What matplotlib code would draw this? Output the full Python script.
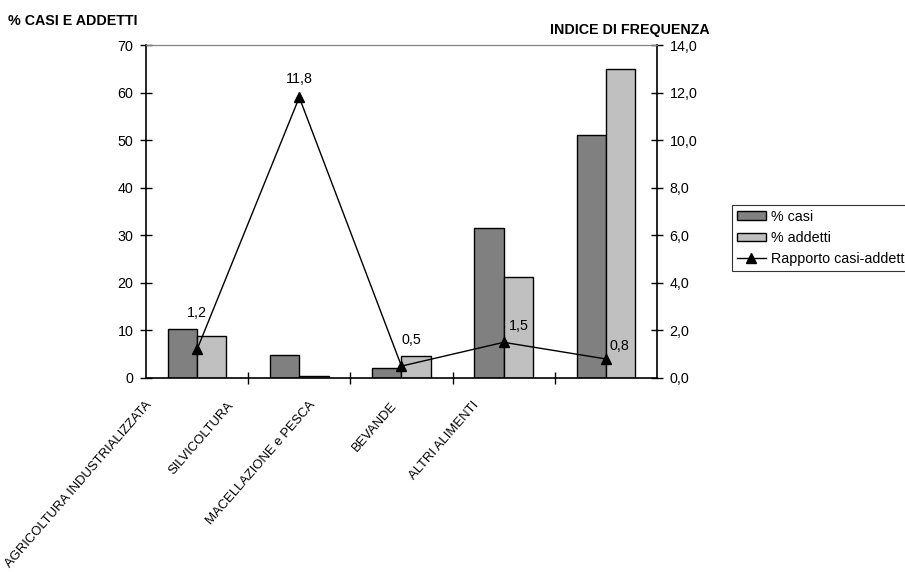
import numpy as np
import matplotlib.pyplot as plt

plt.rcParams['font.family'] = ['Liberation Sans', 'DejaVu Sans']

settori = ['AGRICOLTURA INDUSTRIALIZZATA', 'SILVICOLTURA', 'MACELLAZIONE e PESCA',
           'BEVANDE', 'ALTRI ALIMENTI']
perc_casi = [10.4, 4.8, 2.2, 31.5, 51.0]
perc_addetti = [8.9, 0.5, 4.6, 21.2, 64.9]
rapporto = [1.2, 11.8, 0.5, 1.5, 0.8]
etichette_rapporto = ['1,2', '11,8', '0,5', '1,5', '0,8']
# spostamento delle etichette del rapporto (punti)
spost_etichette = [(0, 26), (0, 13), (7.5, 18.5), (11, 12), (10, 9.5)]

fig = plt.figure(figsize=(9.05, 5.72), dpi=100)
ax = fig.add_axes([0.1613, 0.3392, 0.5646, 0.5821])
ax2 = ax.twinx()

x = np.arange(len(settori))
w = 0.287
ax.bar(x - w / 2, perc_casi, w, color='#808080', edgecolor='black', linewidth=1, label='% casi', zorder=2)
ax.bar(x + w / 2, perc_addetti, w, color='#C0C0C0', edgecolor='black', linewidth=1, label='% addetti', zorder=2)

ax.set_xlim(-0.5, len(settori) - 0.5)
ax.set_ylim(0, 70)
ax.set_yticks(range(0, 71, 10))
ax.set_xticks(np.arange(0.5, len(settori) - 0.5, 1))
ax.set_xticklabels([])
ax.tick_params(axis='x', direction='inout', length=8, width=1)
ax.tick_params(axis='y', direction='inout', length=8, width=1, labelsize=10.3, pad=5)
for s in ['left', 'bottom']:
    ax.spines[s].set_linewidth(1.2)
ax.spines['top'].set_color('#808080')
ax.spines['right'].set_visible(False)

# etichette dei settori, ruotate
for i, nome in enumerate(settori):
    ax.text(0.8 * i - 0.51, -4.5, nome, rotation=49, ha='right', va='top',
            rotation_mode='anchor', fontsize=9.4)

ln, = ax2.plot(x, rapporto, color='black', linewidth=1, marker='^', markersize=7,
               label='Rapporto casi-addetti', zorder=3)
for xi, yi, t, off in zip(x, rapporto, etichette_rapporto, spost_etichette):
    ax2.annotate(t, (xi, yi), xytext=off, textcoords='offset points',
                 ha='center', va='center', fontsize=10.3)
ax2.set_ylim(0, 14)
ax2.set_yticks(np.arange(0, 14.1, 2))
ax2.set_yticklabels([f'{v:.1f}'.replace('.', ',') for v in np.arange(0, 14.1, 2)])
ax2.tick_params(axis='y', direction='inout', length=8, width=1, labelsize=10.3, pad=5)
ax2.spines['right'].set_linewidth(1.2)
ax2.spines['top'].set_color('#808080')
for s in ['left', 'bottom']:
    ax2.spines[s].set_visible(False)

fig.text(0.009, 0.963, '% CASI E ADDETTI', fontsize=10.3, fontweight='bold', ha='left', va='center')
fig.text(0.608, 0.947, 'INDICE DI FREQUENZA', fontsize=10.3, fontweight='bold', ha='left', va='center')

h1, l1 = ax.get_legend_handles_labels()
leg = fig.legend(h1 + [ln], l1 + ['Rapporto casi-addetti'], loc='upper left',
                 bbox_to_anchor=(0.809, 0.642), fontsize=10.3, frameon=True, fancybox=False,
                 edgecolor='black', handlelength=2.0, handleheight=0.55, handletextpad=0.35,
                 labelspacing=0.5, borderpad=0.35, borderaxespad=0)
leg.get_frame().set_linewidth(0.8)

fig.savefig('out.png', dpi=100)
